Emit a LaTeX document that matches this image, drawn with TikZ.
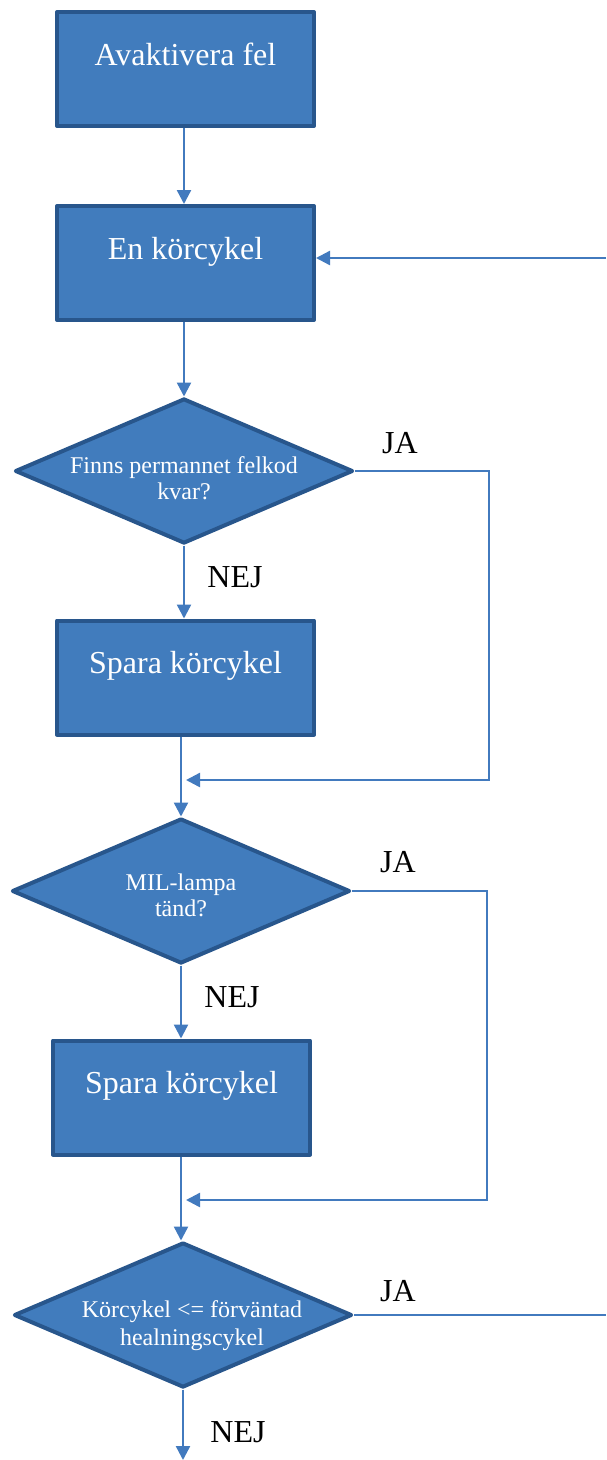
\documentclass[tikz,border=0pt]{standalone}
\usepackage{fontspec}
\setmainfont{Liberation Serif}
\usetikzlibrary{shapes.geometric,arrows.meta}
\definecolor{boxfill}{RGB}{65,124,189}
\definecolor{boxline}{RGB}{40,86,140}
\definecolor{conncol}{RGB}{66,122,190}
\begin{document}
\begin{tikzpicture}[x=1pt,y=-1pt,
 box/.style={draw=boxline, fill=boxfill, line width=4pt, line join=round, minimum width=257pt, minimum height=114pt, inner sep=0pt, text=white, font=\fontsize{32}{36}\selectfont, text height=22pt, text depth=30pt},
 dia/.style={diamond, draw=boxline, fill=boxfill, line width=4pt, line join=round, minimum width=338pt, minimum height=145pt, inner sep=0pt},
 dtext/.style={text=white, align=center, font=\fontsize{24}{26}\selectfont},
 lbl/.style={font=\fontsize{32}{36}\selectfont, text=black},
 conn/.style={draw=conncol, line width=2.4pt},
 arr/.style={conn, -{Triangle[length=14pt,width=14pt]}}
]
\useasboundingbox (0,0) rectangle (606,1460);
\node[box] (b1) at (185.5,69) {Avaktivera fel};
\node[box] (b2) at (185.5,263) {En körcykel};
\node[dia] (d1) at (184,471) {};
\node[dtext] (t1) at (184,478) {Finns permannet felkod\\kvar?};
\node[box] (b3) at (185.5,677.5) {Spara körcykel};
\node[dia] (d2) at (181,891) {};
\node[dtext] (t2) at (181,895) {MIL-lampa\\tänd?};
\node[box] (b4) at (181.5,1097.5) {Spara körcykel};
\node[dia] (d3) at (183,1315) {};
\node[dtext, font=\fontsize{24}{28}\selectfont] (t3) at (192,1326) {Körcykel <= förväntad\\healningscykel};

\node[lbl] (ja1) at (400,443) {JA};
\node[lbl] (nej1) at (235,577) {NEJ};
\node[lbl] (ja2) at (398,862) {JA};
\node[lbl] (nej2) at (232,997) {NEJ};
\node[lbl] (ja3) at (398,1291) {JA};
\node[lbl] (nej3) at (238,1432) {NEJ};

\coordinate (in2) at (606,258);
\coordinate (j1) at (489,780);
\coordinate (m1) at (186,780);
\coordinate (j2) at (487,1200);
\coordinate (m2) at (186,1200);
\coordinate (out3) at (606,1315);
\coordinate (end3) at (183,1460);

\draw[arr] (b1.south -| d1.north) -- (b2.north -| d1.north);
\draw[arr] (in2) -- (b2.east |- in2);
\draw[arr] (b2.south -| d1.north) -- (d1.north);
\draw[arr] (d1.east) -| (j1) -- (m1);
\draw[arr] (d1.south) -- (b3.north -| d1.south);
\draw[arr] (b3.south -| d2.north) -- (d2.north);
\draw[arr] (d2.east) -| (j2) -- (m2);
\draw[arr] (d2.south) -- (b4.north -| d2.south);
\draw[arr] (b4.south -| d2.north) -- (d3.north -| d2.north);
\draw[conn] (d3.east) -- (d3.east -| out3);
\draw[arr] (d3.south) -- (end3);
\end{tikzpicture}
\end{document}
